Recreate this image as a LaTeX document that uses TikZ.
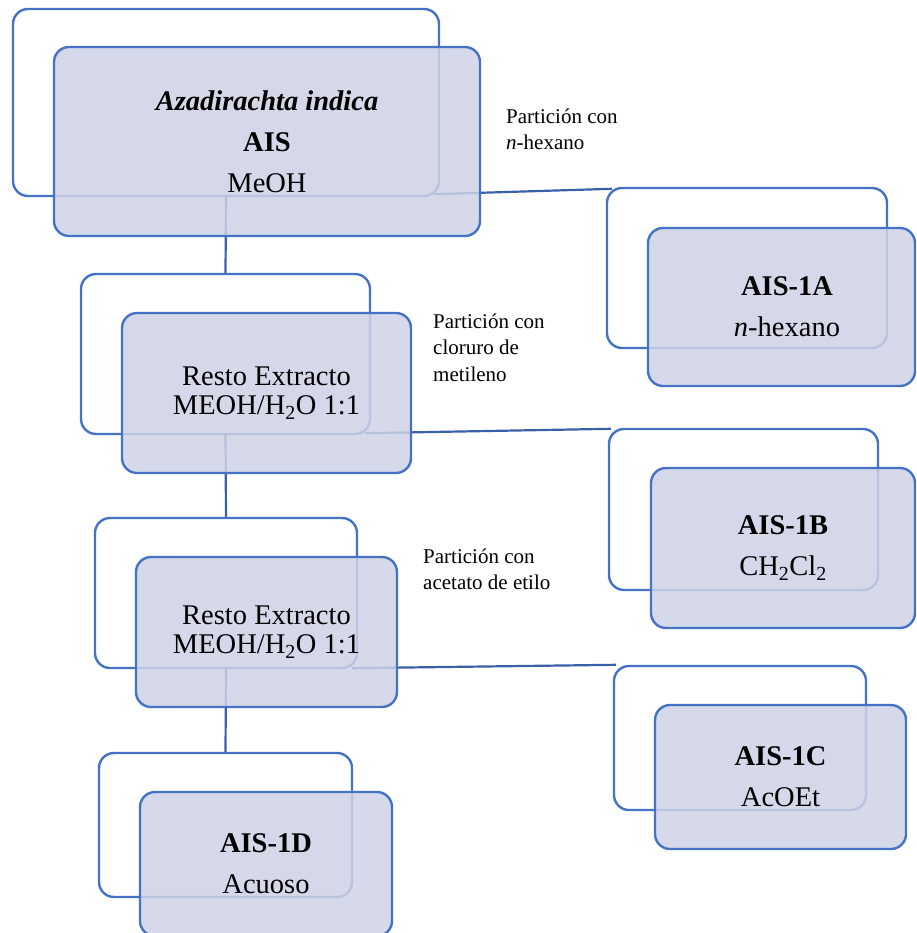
\documentclass[tikz,border=0pt]{standalone}
\usepackage{fontspec}
\setmainfont{Liberation Serif}
\usetikzlibrary{calc}
\definecolor{edgeblue}{RGB}{68,114,196}
\definecolor{linkblue}{RGB}{58,96,168}
\definecolor{boxfill}{RGB}{206,210,230}
\begin{document}
\begin{tikzpicture}[x=1pt,y=-1pt,
  backbox/.style={draw=edgeblue, line width=2.4pt, rounded corners=15pt, fill=white,
    inner sep=0pt, minimum width=#1},
  frontbox/.style={draw=edgeblue, line width=2.4pt, rounded corners=15pt, fill=boxfill,
    fill opacity=0.85, text opacity=1, inner sep=0pt, align=center,
    font=\fontsize{28.5}{41}\selectfont, minimum width=#1},
  link/.style={draw=linkblue, line width=2.2pt},
  note/.style={anchor=north west, inner sep=0pt, align=left,
    font=\fontsize{21}{26.5}\selectfont}]
\useasboundingbox (0,0) rectangle (916,933);
\clip (0,0) rectangle (916,933);

% rear outlines of each stage
\node[backbox=426pt, minimum height=187pt] (b0) at (226,102.5) {};
\node[backbox=280pt, minimum height=160pt] (b1) at (747,268) {};
\node[backbox=289pt, minimum height=160pt] (r1b) at (225.5,354) {};
\node[backbox=269pt, minimum height=161pt] (b2) at (743.5,509.5) {};
\node[backbox=262pt, minimum height=150pt] (r2b) at (226,593) {};
\node[backbox=252pt, minimum height=144pt] (b3) at (740,738) {};
\node[backbox=253pt, minimum height=144pt] (b4) at (225.5,825) {};

% connectors between stages
\draw[link] (b0.south) -- (r1b.north);
\draw[link] (r1b.south) -- (r2b.north);
\draw[link] (r2b.south) -- (b4.north);
\draw[link] ($(b0.south east)+(-6,-3)$) -- ($(b1.north west)+(6,2)$);
\draw[link] ($(r1b.south east)+(-6,-2)$) -- ($(b2.north west)+(3,1)$);
\draw[link] ($(r2b.south east)+(-6,-1)$) -- ($(b3.north west)+(3,0)$);

% front panels with the stage contents
\node[frontbox=426pt, minimum height=189pt] (f0) at (267,141.5)
  {\textbf{\textit{Azadirachta indica}}\\\textbf{AIS}\\MeOH};
\node[frontbox=267pt, minimum height=158pt] (f1) at (781.5,307)
  {\hspace*{11pt}\textbf{AIS-1A}\\\hspace*{11pt}\textit{n}-hexano};
\node[frontbox=289pt, minimum height=160pt, font=\fontsize{28.5}{29.5}\selectfont] (r1f) at (266.5,393)
  {Resto Extracto\\MEOH/H\textsubscript{2}O 1:1};
\node[frontbox=264pt, minimum height=160pt] (f2) at (783,548)
  {\textbf{AIS-1B}\\CH\textsubscript{2}Cl\textsubscript{2}};
\node[frontbox=261pt, minimum height=150pt, font=\fontsize{28.5}{29.5}\selectfont] (r2f) at (266.5,632)
  {Resto Extracto\\MEOH/H\textsubscript{2}O 1:1};
\node[frontbox=251pt, minimum height=144pt] (f3) at (780.5,777)
  {\textbf{AIS-1C}\\AcOEt};
\node[frontbox=252pt, minimum height=144pt] (f4) at (266,864)
  {\textbf{AIS-1D}\\Acuoso};

% partition labels
\node[note] (n1) at (506,108.5) {Partición con\\\textit{n}-hexano};
\node[note] (n2) at (433,313.5) {Partición con\\cloruro de\\metileno};
\node[note] (n3) at (423,548.5) {Partición con\\acetato de etilo};
\end{tikzpicture}
\end{document}
